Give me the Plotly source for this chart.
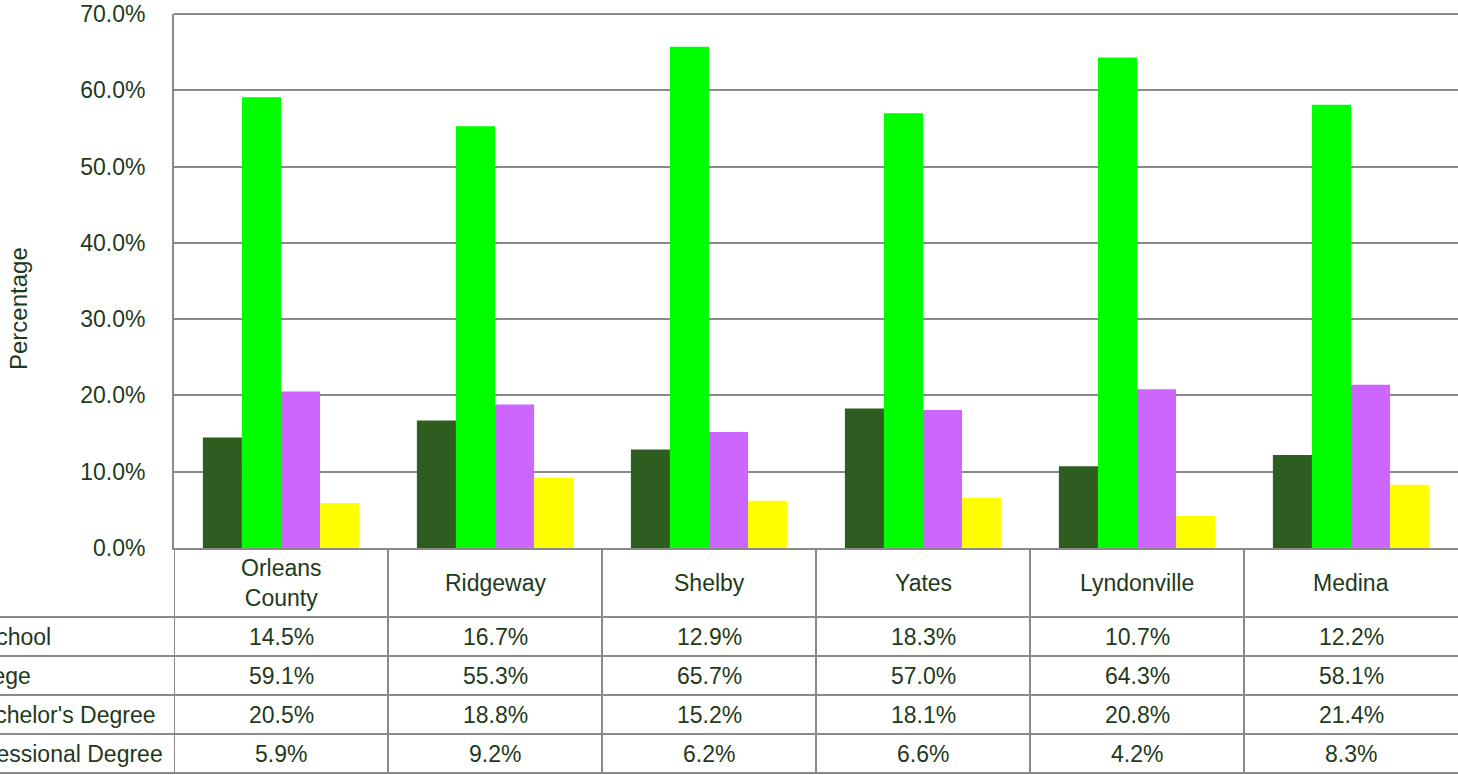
import plotly.graph_objects as go

categories = ["Orleans<br>County", "Ridgeway", "Shelby", "Yates", "Lyndonville", "Medina"]
series_names = ["Less than High School", "High School/Some College",
                "Bachelor's Degree", "Graduate/Professional Degree"]
less_than_hs = [14.5, 16.7, 12.9, 18.3, 10.7, 12.2]
hs_some_college = [59.1, 55.3, 65.7, 57.0, 64.3, 58.1]
bachelors = [20.5, 18.8, 15.2, 18.1, 20.8, 21.4]
grad_prof = [5.9, 9.2, 6.2, 6.6, 4.2, 8.3]
y_ticks = [0, 10, 20, 30, 40, 50, 60, 70]

series_values = [less_than_hs, hs_some_college, bachelors, grad_prof]
colors = ["#2e5e1f", "#00ff00", "#cc66ff", "#ffff00"]

W, H = 1458, 775
L, R, T, B = 174, 0, 14, 227
PW = W - L - R
PH = H - T - B
TXT = "#1f3a1b"
GRID = "#8a8a8a"
FONT = "Liberation Sans, Arial, sans-serif"


def px_x(p):
    return (p - L) / PW


def px_y(p):
    return (H - B - p) / PH


fig = go.Figure()
for name, vals, col in zip(series_names, series_values, colors):
    fig.add_trace(go.Bar(x=list(range(len(categories))), y=vals, name=name,
                         marker=dict(color=col, line=dict(width=0))))

shapes = []
# top border line at 70%
shapes.append(dict(type="line", xref="paper", yref="paper", x0=0, x1=1,
                   y0=1, y1=1, line=dict(color=GRID, width=2)))
# table horizontal lines
for py in [617, 656, 695, 734, 773]:
    shapes.append(dict(type="line", xref="paper", yref="paper",
                       x0=px_x(0), x1=1, y0=px_y(py), y1=px_y(py),
                       line=dict(color=GRID, width=2)))
# table vertical lines
for k in range(len(categories)):
    shapes.append(dict(type="line", xref="x", yref="paper",
                       x0=k - 0.5, x1=k - 0.5, y0=0, y1=px_y(773),
                       line=dict(color=GRID, width=2)))

annotations = []
for k, c in enumerate(categories):
    annotations.append(dict(x=k, xref="x", y=px_y(583), yref="paper",
                            text=c, showarrow=False, xanchor="center",
                            yanchor="middle", font=dict(size=23, color=TXT, family=FONT)))
row_centers = [636.5, 676, 715, 754]
label_ends = [53, 33, 158, 165]
for vals, name, cy, le in zip(series_values, series_names, row_centers, label_ends):
    annotations.append(dict(x=px_x(le), xref="paper", y=px_y(cy), yref="paper",
                            text=name, showarrow=False, xanchor="right",
                            yanchor="middle", font=dict(size=23, color=TXT, family=FONT)))
    for k, v in enumerate(vals):
        annotations.append(dict(x=k, xref="x", y=px_y(cy), yref="paper",
                                text=f"{v:.1f}%", showarrow=False, xanchor="center",
                                yanchor="middle", font=dict(size=23, color=TXT, family=FONT)))
annotations.append(dict(x=px_x(18), xref="paper", y=px_y(309), yref="paper",
                        text="Percentage", textangle=-90, showarrow=False,
                        xanchor="center", yanchor="middle",
                        font=dict(size=24, color=TXT, family=FONT)))

fig.update_layout(
    width=W, height=H,
    margin=dict(l=L, r=R, t=T, b=B, pad=0),
    paper_bgcolor="white", plot_bgcolor="white",
    barmode="group", bargap=0.27, bargroupgap=0,
    showlegend=False,
    shapes=shapes, annotations=annotations,
    font=dict(family=FONT, color=TXT),
    xaxis=dict(range=[-0.5, len(categories) - 0.5], showticklabels=False,
               showgrid=False, zeroline=False, showline=True,
               linecolor=GRID, linewidth=2, ticks=""),
    yaxis=dict(range=[0, 70], tickvals=y_ticks,
               ticktext=[f"{t:.1f}%" for t in y_ticks],
               showgrid=True, gridcolor=GRID, gridwidth=2,
               zeroline=False, showline=True, linecolor=GRID, linewidth=2,
               ticks="", ticklabelstandoff=22,
               tickfont=dict(size=23, color=TXT, family=FONT)),
)

fig.write_html("out.html", config={"displayModeBar": False},
               post_script="document.body.style.margin='0';document.body.style.overflow='hidden';")
